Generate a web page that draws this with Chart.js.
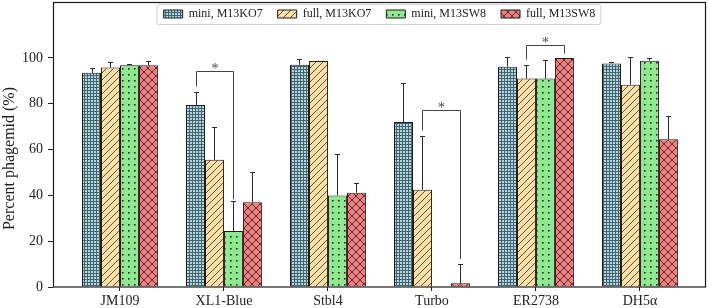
<!DOCTYPE html>
<html>
<head>
<meta charset="utf-8">
<script src="https://cdn.jsdelivr.net/npm/chart.js@4.4.1/dist/chart.umd.min.js"></script>
<style>
  html, body { margin: 0; padding: 0; background: #fff; }
  #wrap { width: 708px; height: 308px; }
</style>
</head>
<body>
<div id="wrap"><canvas id="phagemidChart"></canvas></div>
<script>
const strains = ['JM109', 'XL1-Blue', 'Stbl4', 'Turbo', 'ER2738', 'DH5α'];
const seriesLabels = ['mini, M13KO7', 'full, M13KO7', 'mini, M13SW8', 'full, M13SW8'];
const miniKO7 = [93.5, 79.5, 97, 72, 96.2, 97.6];
const miniKO7Err = [2, 5.5, 2.5, 17, 4, 0.7];
const fullKO7 = [95.8, 55.5, 98.7, 42.5, 91, 88.3];
const fullKO7Err = [2.5, 14.5, 0, 23.3, 6, 12];
const miniSW8 = [96.8, 24.5, 40, 0, 91, 98.8];
const miniSW8Err = [0.7, 13, 18, 0, 8, 1.2];
const fullSW8 = [96.8, 37, 41.2, 1.6, 100, 64.5];
const fullSW8Err = [2, 13.3, 4.3, 8.3, 0, 10];
const yTicks = [0, 20, 40, 60, 80, 100];

// significance brackets (strain index, left/right series, bracket height, leg ends)
const sigStrain = [1, 3, 4];
const sigLeft = [0, 1, 1];
const sigRight = [2, 3, 3];
const sigTop = [94.3, 77.2, 105.5];
const sigLeftEnd = [87.5, 68.3, 99.3];
const sigRightEnd = [38.3, 12.2, 101.9];

const yAxisTop = 124.3;   // value at the top spine
const serif = 'Liberation Serif, Times New Roman, serif';

function makePattern(bg, size, draw) {
  const c = document.createElement('canvas');
  c.width = size; c.height = size;
  const g = c.getContext('2d');
  g.fillStyle = bg;
  g.fillRect(0, 0, size, size);
  g.strokeStyle = 'rgba(0,0,0,0.8)';
  g.fillStyle = 'rgba(0,0,0,0.8)';
  g.lineWidth = 0.8;
  draw(g, size);
  return g.createPattern(c, 'repeat');
}

const patterns = [
  makePattern('#a9d9e8', 3, (g, s) => {
    g.fillStyle = 'rgba(0,0,0,0.55)';
    g.fillRect(0, 0, s, 1);
    g.fillRect(0, 1, 1, s - 1);
  }),
  makePattern('#fde0a8', 7, (g, s) => {
    g.beginPath();
    g.moveTo(0, s); g.lineTo(s, 0);
    g.moveTo(-1, 1); g.lineTo(1, -1);
    g.moveTo(s - 1, s + 1); g.lineTo(s + 1, s - 1);
    g.stroke();
  }),
  makePattern('#8fe98f', 6, (g, s) => {
    g.fillRect(2, 2, 1.6, 1.6);
  }),
  makePattern('#f08080', 8, (g, s) => {
    g.beginPath();
    g.moveTo(0, s); g.lineTo(s, 0);
    g.moveTo(0, 0); g.lineTo(s, s);
    g.moveTo(-1, 1); g.lineTo(1, -1);
    g.moveTo(s - 1, s + 1); g.lineTo(s + 1, s - 1);
    g.moveTo(-1, s - 1); g.lineTo(1, s + 1);
    g.moveTo(s - 1, -1); g.lineTo(s + 1, 1);
    g.stroke();
  })
];

const seriesValues = [miniKO7, fullKO7, miniSW8, fullSW8];
const seriesErrors = [miniKO7Err, fullKO7Err, miniSW8Err, fullSW8Err];

const datasets = seriesValues.map((vals, k) => ({
  label: seriesLabels[k],
  data: vals.map((v, i) => ({ x: i, y: v })),
  backgroundColor: patterns[k],
  borderColor: '#1c1c1c',
  borderWidth: 1,
  categoryPercentage: 0.73,
  barPercentage: 1.0
}));

// legend frame drawn behind the legend items
const legendBoxPlugin = {
  id: 'legendBox',
  beforeDraw(chart) {
    const boxes = chart.legend && chart.legend.legendHitBoxes;
    if (!boxes || !boxes.length) return;
    const first = boxes[0], last = boxes[boxes.length - 1];
    const x0 = first.left - 7, x1 = last.left + last.width + 5;
    const y0 = first.top - 4, y1 = first.top + first.height + 4;
    const ctx = chart.ctx;
    ctx.save();
    ctx.beginPath();
    ctx.roundRect(x0 + 0.5, y0 + 0.5, x1 - x0, y1 - y0, 2);
    ctx.fillStyle = 'rgba(255,255,255,0.8)';
    ctx.fill();
    ctx.strokeStyle = '#d0d0d0';
    ctx.lineWidth = 1;
    ctx.stroke();
    ctx.restore();
  }
};

// one-sided error bars, significance brackets and the axes frame
const overlayPlugin = {
  id: 'overlay',
  afterDatasetsDraw(chart) {
    const ctx = chart.ctx;
    const y = chart.scales.y;
    ctx.save();
    ctx.strokeStyle = '#2a2a2a';
    ctx.lineWidth = 1;
    seriesErrors.forEach((errs, k) => {
      const meta = chart.getDatasetMeta(k);
      meta.data.forEach((bar, i) => {
        if (!errs[i]) return;
        const x = Math.round(bar.x) + 0.5;
        const yTop = Math.round(y.getPixelForValue(seriesValues[k][i] + errs[i])) + 0.5;
        ctx.beginPath();
        ctx.moveTo(x, bar.y);
        ctx.lineTo(x, yTop);
        ctx.moveTo(x - 2.5, yTop);
        ctx.lineTo(x + 2.5, yTop);
        ctx.stroke();
      });
    });

    ctx.strokeStyle = '#444';
    ctx.fillStyle = '#444';
    ctx.font = '14px ' + serif;
    ctx.textAlign = 'center';
    ctx.textBaseline = 'alphabetic';
    sigStrain.forEach((s, j) => {
      const xl = Math.round(chart.getDatasetMeta(sigLeft[j]).data[s].x) + 0.5;
      const xr = Math.round(chart.getDatasetMeta(sigRight[j]).data[s].x) + 0.5;
      const yt = Math.round(y.getPixelForValue(sigTop[j])) + 0.5;
      ctx.beginPath();
      ctx.moveTo(xl, y.getPixelForValue(sigLeftEnd[j]));
      ctx.lineTo(xl, yt);
      ctx.lineTo(xr, yt);
      ctx.lineTo(xr, y.getPixelForValue(sigRightEnd[j]));
      ctx.stroke();
      ctx.fillText('*', (xl + xr) / 2, yt + 1);
    });

    const area = chart.chartArea;
    const top = Math.round(y.getPixelForValue(yAxisTop)) + 0.5;
    ctx.strokeStyle = '#1a1a1a';
    ctx.lineWidth = 1.2;
    ctx.strokeRect(area.left + 0.5, top, area.right - area.left - 1, area.bottom - top);
    ctx.restore();
  }
};

const chart = new Chart(document.getElementById('phagemidChart'), {
  type: 'bar',
  data: { datasets: datasets },
  plugins: [legendBoxPlugin, overlayPlugin],
  options: {
    responsive: true,
    maintainAspectRatio: false,
    animation: false,
    layout: { padding: { top: -7, right: 2, bottom: 0, left: 0 } },
    plugins: {
      tooltip: { enabled: false },
      legend: {
        position: 'top',
        fullSize: false,
        labels: {
          boxWidth: 19,
          boxHeight: 8,
          padding: 15,
          color: '#222',
          font: { family: serif, size: 12 }
        }
      }
    },
    scales: {
      x: {
        type: 'linear',
        offset: false,
        min: -0.644,
        max: 5.635,
        afterBuildTicks: (scale) => { scale.ticks = strains.map((s, i) => ({ value: i })); },
        afterFit: (scale) => { scale.height = 21; },
        ticks: {
          callback: (v) => strains[v],
          autoSkip: false,
          maxRotation: 0,
          padding: 2,
          color: '#222',
          font: { family: serif, size: 14 }
        },
        grid: { offset: false, drawOnChartArea: false, tickLength: 4, color: '#222' },
        border: { display: false }
      },
      y: {
        min: 0,
        max: 112.2,
        afterBuildTicks: (scale) => { scale.ticks = yTicks.map(v => ({ value: v })); },
        afterFit: (scale) => { scale.width = 53; },
        ticks: {
          padding: 5,
          color: '#222',
          font: { family: serif, size: 14 }
        },
        grid: { drawOnChartArea: false, tickLength: 5, color: '#222' },
        border: { display: false },
        title: {
          display: true,
          text: 'Percent phagemid (%)',
          color: '#222',
          padding: { top: 0, bottom: 0 },
          font: { family: serif, size: 16 }
        }
      }
    }
  }
});
</script>
</body>
</html>
